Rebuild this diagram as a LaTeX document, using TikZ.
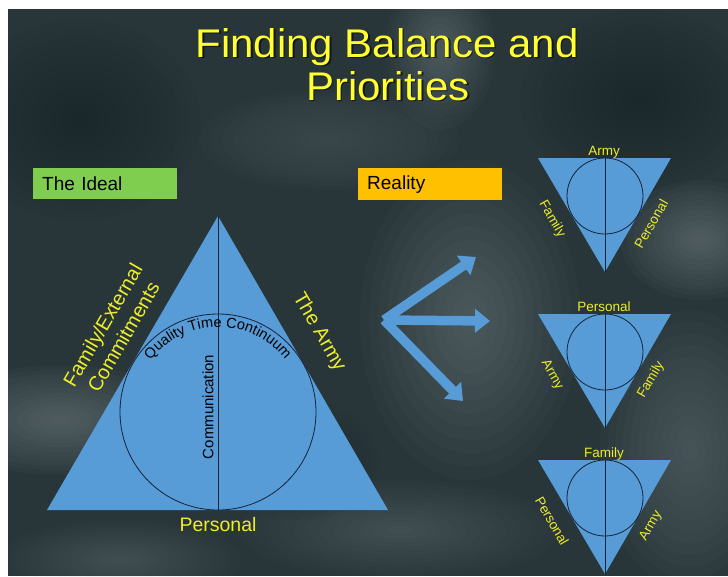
\documentclass[tikz,border=0pt]{standalone}
\usepackage{fontspec}
\setmainfont{Liberation Sans}
\newfontfamily\ttlfont[FakeStretch=1.05]{Liberation Sans}
\usetikzlibrary{arrows.meta,decorations.text}
\definecolor{bg}{RGB}{40,54,58}
\definecolor{cloud}{RGB}{150,162,165}
\definecolor{darkcl}{RGB}{16,28,30}
\definecolor{tri}{RGB}{87,155,215}
\definecolor{lbl}{RGB}{238,238,40}
\definecolor{ttl}{RGB}{255,255,50}
\definecolor{grn}{RGB}{128,206,80}
\definecolor{org}{RGB}{255,192,0}
\definecolor{lin}{RGB}{22,36,56}
\begin{document}
\begin{tikzpicture}[x=1pt,y=1pt,
  trifill/.style={fill=tri, draw=none},
  ring/.style={draw=lin, line width=0.8pt},
  axisline/.style={draw=lin, line width=0.8pt},
  lab/.style={text=lbl, font=\fontsize{20}{24}\selectfont, inner sep=0pt},
  slab/.style={text=lbl, font=\fontsize{13.5}{15}\selectfont, inner sep=0pt},
  hdr/.style={anchor=north west, minimum width=144pt, text width=126pt, inner xsep=9pt, inner ysep=0pt, align=left, font=\fontsize{19}{21}\selectfont, text=black},
  bigarrow/.style={draw=tri, line width=9.5pt, -{Triangle[width=23pt,length=15pt]}},
  ttlstyle/.style={anchor=base, text=ttl, font=\ttlfont\fontsize{40}{44}\selectfont, inner sep=0pt},
  ttlshadow/.style={anchor=base, text=black, opacity=0.6, font=\ttlfont\fontsize{40}{44}\selectfont, inner sep=0pt},
]
\useasboundingbox (0,0) rectangle (728,-576);
\fill[white] (0,0) rectangle (728,-576);
\fill[bg] (8,-9) rectangle (728,-576);
% clouds
\begin{scope}
\clip (8,-9) rectangle (728,-576);
\foreach \cx/\cy/\rx/\ry/\op in {440/50/55/80/0.035, 330/140/130/50/0.02, 470/320/110/160/0.035, 60/420/130/55/0.04, 700/240/80/60/0.04, 690/450/90/140/0.03, 400/530/160/50/0.025, 120/560/120/40/0.025}{
  \foreach \k in {1,...,12}{
    \fill[cloud, opacity=\op] (\cx,-\cy) ellipse[x radius={\rx*\k/12}, y radius={\ry*\k/12}];
  }
}
\foreach \cx/\cy/\rx/\ry/\op in {640/100/120/90/0.045, 80/120/120/100/0.045, 300/460/80/60/0.03}{
  \foreach \k in {1,...,12}{
    \fill[darkcl, opacity=\op] (\cx,-\cy) ellipse[x radius={\rx*\k/12}, y radius={\ry*\k/12}];
  }
}
\end{scope}
% title
\node[ttlshadow] (t1s) at (388.5,-58.5) {Finding Balance and};
\node[ttlshadow] (t2s) at (389.5,-101.5) {Priorities};
\node[ttlstyle] (t1) at (387,-57) {Finding Balance and};
\node[ttlstyle] (t2) at (388,-100) {Priorities};
% headers
\node[hdr, fill=grn, minimum height=31pt] (ideal) at (33,-168) {The Ideal};
\node[hdr, fill=org, minimum height=32pt] (reality) at (358,-168) {Reality};
% big triangle
\fill[trifill] (47,-510) -- (218,-216) -- (388,-510) -- cycle;
\draw[ring] (218,-412) circle[radius=98pt];
\draw[axisline] (218,-216) -- (218,-510);
\path[decorate, decoration={text along path, text align=center, text={|\fontsize{14.5}{16}\selectfont\color{black}|Quality Time Continuum}}]
  (218,-412) ++(150:85pt) arc[start angle=150, end angle=30, radius=85pt];
\node[rotate=90, text=black, font=\fontsize{15}{17}\selectfont, inner sep=0pt] (comm) at (208,-407) {Communication};
\node[lab, anchor=base, font=\fontsize{19.5}{21}\selectfont] (pers) at (218,-531) {Personal};
\node[lab, rotate=60, align=center] (fam) at (113,-331) {Family/External\\Commitments};
\node[lab, rotate=-60] (army) at (319,-332) {The Army};
% arrows
\coordinate (hub) at (384,-320);
\coordinate (tipA) at (476,-257);
\coordinate (tipB) at (490,-321);
\coordinate (tipC) at (463,-401);
\draw[bigarrow] (hub) -- (tipA);
\draw[bigarrow] (hub) -- (tipB);
\draw[bigarrow] (hub) -- (tipC);
% small triangles
\foreach \ty/\tp/\lf/\rt [count=\n] in {158/Army/Family/Personal, 314/Personal/Army/Family, 460/Family/Personal/Army}{
  \fill[trifill] (538,-\ty) -- (671,-\ty) -- (605,-\ty-114) -- cycle;
  \draw[ring] (605,-\ty-38) circle[radius=38pt];
  \draw[axisline] (605,-\ty) -- (605,-\ty-114);
  \node[slab, anchor=base] (top\n) at (604,-\ty+3) {\tp};
  \node[slab, rotate=-60] (left\n) at (552,-\ty-61) {\lf};
  \node[slab, rotate=60] (right\n) at (651,-\ty-66) {\rt};
}
\end{tikzpicture}
\end{document}
